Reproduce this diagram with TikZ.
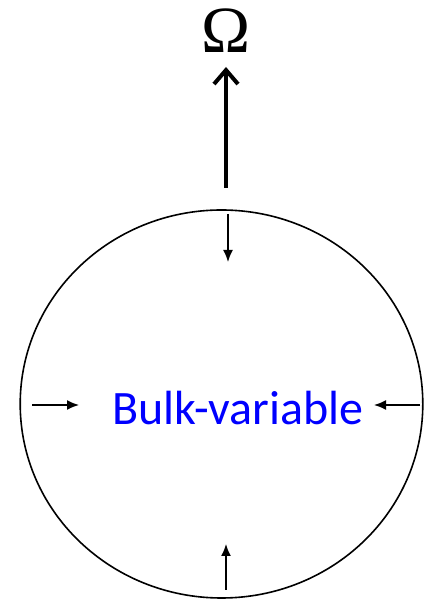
\documentclass[tikz,border=0pt]{standalone}
\usepackage{fontspec}
\setmainfont{Carlito}
\newfontfamily\omegafont{Liberation Serif}
\usetikzlibrary{arrows.meta}
\begin{document}
\begin{tikzpicture}[x=1pt,y=1pt,
  small/.style={line width=1.6pt,-{Latex[length=12pt,width=10pt]}},
  big/.style={line width=4pt,-{Straight Barb[length=14pt,width=24pt,line width=4pt]}}]
\useasboundingbox (0,0) rectangle (424,601);
\draw[line width=1.6pt] (221.5,197) ellipse [x radius=201.3, y radius=194];
\node[anchor=center, text=blue, font=\fontsize{48}{48}\selectfont, inner sep=0pt] (bulk) at (238,193) {Bulk-variable};
\node[font=\omegafont\fontsize{66}{66}\selectfont, inner sep=0pt] (omega) at (226,570) {Ω};
\coordinate (bs) at (226,413);
\coordinate (be) at (226,534);
\draw[big] (bs) -- (be);
\coordinate (ts) at (228,387);
\coordinate (te) at (228,339);
\draw[small] (ts) -- (te);
\coordinate (bos) at (226,11);
\coordinate (boe) at (226,57);
\draw[small] (bos) -- (boe);
\coordinate (ls) at (32,196);
\coordinate (le) at (79,196);
\draw[small] (ls) -- (le);
\coordinate (rs) at (420,196);
\coordinate (re) at (374,196);
\draw[small] (rs) -- (re);
\end{tikzpicture}
\end{document}
